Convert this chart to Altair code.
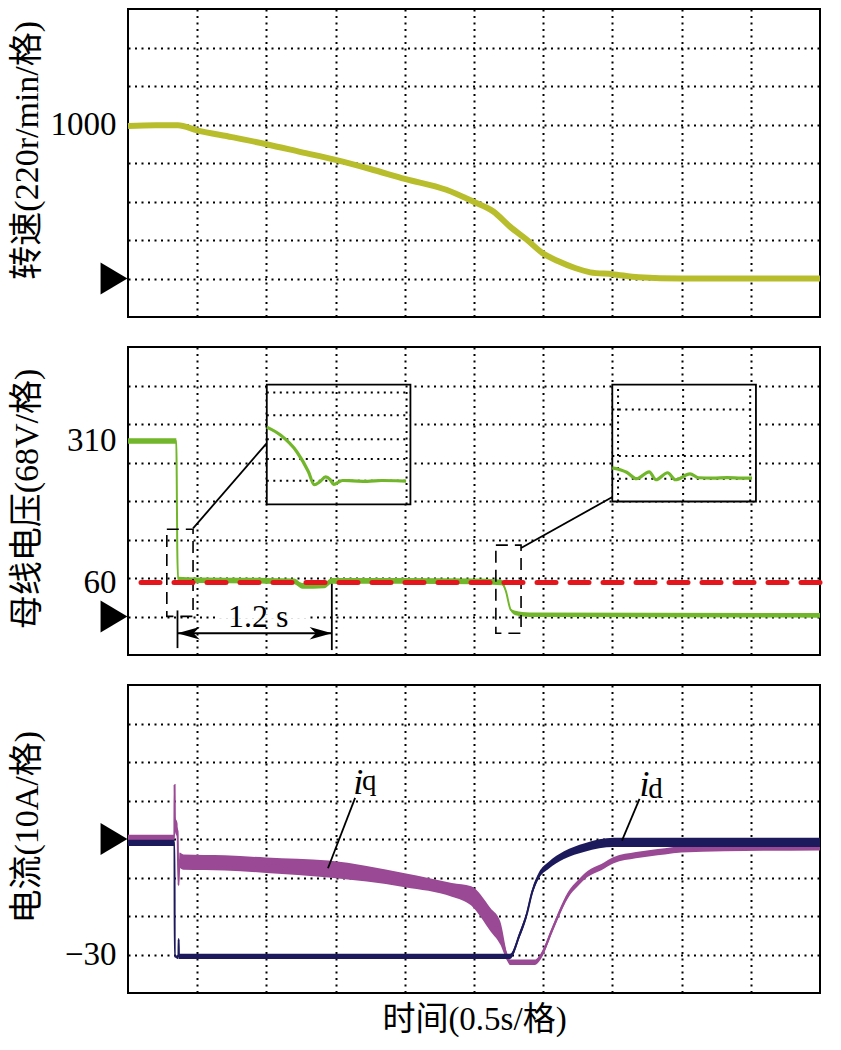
import altair as alt
import pandas as pd

# ---------------- data ----------------
t_grid = [0.5, 1.0, 1.5, 2.0, 2.5, 3.0, 3.5, 4.0, 4.5]          # s, 0.5 s/div

# speed (r/min)
speed_t = [0, 0.2, 0.36, 0.5, 0.75, 1.0, 1.25, 1.5, 1.75, 2.0, 2.3, 2.5, 2.64, 2.76, 2.88,
           3.0, 3.11, 3.23, 3.34, 3.5, 3.69, 4.0, 5.0]
speed_v = [990, 995, 995, 962, 918, 872, 821, 770, 711, 647, 576, 497, 435, 337, 253,
           162, 112, 68, 40, 28, 8, 0, 0]
speed_grid = [0, 250, 500, 750, 1000, 1250, 1500]

# bus voltage (V) and ripple half-width (V)
volt_t = [0, 0.349, 0.352, 0.356, 0.362, 0.5, 1.0, 1.2, 1.26, 1.42, 1.47, 2.0, 2.5, 2.70,
          2.73, 2.765, 2.80, 2.9, 5.0]
volt_v = [310, 310, 250, 120, 66, 64, 63, 62, 54, 55, 63, 63, 62, 60,
          45, 12, 6, 3, 2]
volt_r = [5, 5, 0, 0, 4, 5, 5, 5, 5, 5, 5, 5, 5, 5,
          2, 2, 4, 4, 4]
volt_ticks = [60, 310]
volt_grid = [0, 68, 136, 204, 272, 340, 408]
volt_ref = [60]

# currents (A)
iq_t = [0, 0.335, 0.3366, 0.339, 0.358, 0.3646, 0.372, 0.40, 0.7, 1.0, 1.45, 2.0, 2.34, 2.48,
        2.62, 2.69, 2.74, 2.76, 2.94, 2.99, 3.06, 3.11, 3.18, 3.25, 3.32, 3.42, 3.51, 3.67,
        3.88, 4.0, 4.31, 5.0]
iq_v = [0.3, 0.3, 14, 4, 2, -12, -5.5, -6.0, -6.2, -6.8, -7.8, -10.7, -13.2, -14.8,
        -21.0, -24.4, -30.7, -32, -32, -30, -24, -19.7, -14.5, -11.5, -9.1, -7.3, -5.5, -4.2,
        -3.2, -2.7, -2.4, -2.2]
iq_r = [0.8, 0.8, 0, 2, 2, 0, 2, 2, 2, 2, 2.2, 1.8, 1.8, 2.5,
        3.0, 3.0, 1.0, 0.7, 0.7, 0.8, 0.8, 0.8, 0.8, 0.8, 0.8, 0.8, 0.8, 0.8,
        0.8, 0.8, 0.8, 0.8]
id_t = [0, 0.336, 0.3375, 0.3646, 0.366, 0.368, 2.76, 2.83, 2.88, 2.92, 2.97, 3.04, 3.15,
        3.30, 3.51, 5.0]
id_v = [-1.0, -1.0, -30.5, -30.5, -26, -30.5, -30.5, -24.8, -19.7, -13.8, -9.4, -6.8, -4.2,
        -2.2, -0.9, -0.9]
id_r = [0.8, 0.8, 0, 0.7, 0, 0.7, 0.7, 0.8, 0.8, 0.8, 0.8, 0.9, 1.0, 1.1, 1.2, 1.2]
curr_grid = [-30, -20, -10, 0, 10, 20, 30]

# annotations of panel 2 (data units: s, V)
brk_t1 = [0.2805, 2.658]
brk_t2 = [0.470, 2.840]
brk_v1 = [154.1, 126.1]
brk_v2 = [0.2, -29.6]
lead_t1 = [0.470, 2.840]
lead_v1 = [155.7, 120.9]
lead_t2 = [1.003, 3.506]
lead_v2 = [306.1, 211.9]
span_t = [0.3576, 1.4727]
span_v = [-29.6]
end_t = [0.3576, 1.4727]
end_v1 = [10.7, 57.9]
end_v2 = [-55.8, -59.3]

# insets (fractions of the inset box)
in1_x = [0, 0.095, 0.21, 0.29, 0.33, 0.37, 0.41, 0.44, 0.466, 0.527, 0.6, 0.7, 0.8, 0.9, 0.97]
in1_y = [0.645, 0.579, 0.438, 0.273, 0.165, 0.19, 0.23, 0.21, 0.168, 0.2, 0.197, 0.193, 0.2, 0.198, 0.195]
in1_hgrid = [0.934, 0.744, 0.545, 0.38, 0.198]
in1_vgrid = [0.486, 0.973]
in2_x = [0, 0.06, 0.1, 0.169, 0.257, 0.304, 0.385, 0.439, 0.541, 0.6, 0.7, 0.8, 0.9, 0.973]
in2_y = [0.288, 0.27, 0.25, 0.195, 0.254, 0.186, 0.246, 0.186, 0.237, 0.203, 0.2, 0.205, 0.2, 0.2]
in2_hgrid = [0.788, 0.39, 0.195]
in2_vgrid = [0.04, 0.493, 0.96]

# ---------------- style ----------------
W, H = 692, 308
SER = "Liberation Serif"
CJK = "'Liberation Serif', 'Noto Sans CJK SC', serif"
C_SPEED = "#b8bd2c"
C_VOLT = "#72b72b"
C_RED = "#e3161d"
C_IQ = "#9a4a95"
C_ID = "#1c1a5c"
TRI = "M-0.84,-1 L0.84,0 L-0.84,1 Z"
ARROW_L = "M-1,0 L1,-0.55 L0.45,0 L1,0.55 Z"
ARROW_R = "M1,0 L-1,-0.55 L-0.45,0 L-1,0.55 Z"

XS = alt.Scale(domain=[0, 5], nice=False, zero=False)


def x_grid_axis(title=None):
    kw = dict(values=t_grid, grid=True, labels=False, ticks=False, tickSize=0, domain=False,
              orient="bottom", minExtent=0)
    if title:
        kw.update(title=title, titleFont=CJK, titleFontSize=33, titleFontWeight="normal",
                  titleColor="black", titlePadding=10)
    else:
        kw.update(title=None)
    return alt.Axis(**kw)


def y_axis(values, label_expr, title, title_y, grid_opacity=1):
    return alt.Axis(values=values, grid=True, gridOpacity=grid_opacity, labelExpr=label_expr,
                    labelOverlap=False, ticks=False, tickSize=0,
                    domain=False, labelFont=SER, labelFontSize=33, labelPadding=12,
                    labelColor="black", title=title, titleFont=CJK, titleFontSize=34,
                    titleFontWeight="normal", titleColor="black", titleX=-84, titleY=title_y,
                    titleAngle=270, titleBaseline="bottom", titleAlign="center", orient="left",
                    minExtent=0)


def marker(ysc):
    return alt.Chart(pd.DataFrame({"v": [0]})).mark_point(
        shape=TRI, size=1024, filled=True, color="black", opacity=1, strokeWidth=0
    ).encode(x=alt.value(-14), y=alt.Y("v:Q", scale=ysc, axis=None))


# ---------------- panel 1: speed ----------------
YS1 = alt.Scale(domain=[-250, 1750], nice=False, zero=False)
sp_df = pd.DataFrame({"t": speed_t, "v": speed_v})
p1_line = alt.Chart(sp_df).mark_line(color=C_SPEED, strokeWidth=6, interpolate="monotone").encode(
    x=alt.X("t:Q", scale=XS, axis=x_grid_axis()),
    y=alt.Y("v:Q", scale=YS1,
            axis=y_axis(speed_grid, "datum.value == 1000 ? '1000' : ''", "转速(220r/min/格)",
                        H * 0.457)),
)
p1 = alt.layer(p1_line, marker(YS1)).resolve_axis(x="independent", y="independent").properties(
    width=W, height=H)

# ---------------- panel 2: bus voltage ----------------
YS2 = alt.Scale(domain=[-68, 476], nice=False, zero=False)
v_df = pd.DataFrame({"t": volt_t, "v": volt_v, "r": volt_r})
label_test = " || ".join(f"datum.value == {v}" for v in volt_ticks)
v_band = alt.Chart(v_df).transform_calculate(
    lo="datum.v - datum.r", hi="datum.v + datum.r"
).mark_area(color=C_VOLT, interpolate="monotone").encode(
    x=alt.X("t:Q", scale=XS, axis=x_grid_axis()),
    y=alt.Y("lo:Q", scale=YS2,
            axis=y_axis(sorted(volt_grid + volt_ticks), f"({label_test}) ? datum.label : ''",
                        "母线电压(68V/格)", H * 0.492,
                        grid_opacity={"condition": {"test": label_test, "value": 0}, "value": 1})),
    y2="hi:Q",
)
v_line = alt.Chart(v_df).mark_line(color=C_VOLT, strokeWidth=2, interpolate="monotone").encode(
    x=alt.X("t:Q", scale=XS, axis=None), y=alt.Y("v:Q", scale=YS2, axis=None))
v_ref = alt.Chart(pd.DataFrame({"v": volt_ref})).mark_rule(
    color=C_RED, strokeWidth=5, strokeDash=[19, 14], strokeCap="round"
).encode(y=alt.Y("v:Q", scale=YS2, axis=None))
brk = alt.Chart(pd.DataFrame({"t1": brk_t1, "t2": brk_t2, "v1": brk_v1, "v2": brk_v2})).mark_rect(
    fillOpacity=0, stroke="black", strokeWidth=1.6, strokeDash=[12, 7]
).encode(x=alt.X("t1:Q", scale=XS, axis=None), x2="t2:Q",
         y=alt.Y("v1:Q", scale=YS2, axis=None), y2="v2:Q")
lead = alt.Chart(pd.DataFrame({"t1": lead_t1, "t2": lead_t2, "v1": lead_v1, "v2": lead_v2})).mark_rule(
    color="black", strokeWidth=1.8
).encode(x=alt.X("t1:Q", scale=XS, axis=None), x2="t2:Q",
         y=alt.Y("v1:Q", scale=YS2, axis=None), y2="v2:Q")
knock = alt.Chart(pd.DataFrame({"t1": [0.645], "t2": [1.29], "v1": [-4], "v2": [4]})).mark_rect(
    color="white").encode(x=alt.X("t1:Q", scale=XS, axis=None), x2="t2:Q",
                          y=alt.Y("v1:Q", scale=YS2, axis=None), y2="v2:Q")
span = alt.Chart(pd.DataFrame({"t1": [span_t[0]], "t2": [span_t[1]], "v": span_v})).mark_rule(
    color="black", strokeWidth=1.8
).encode(x=alt.X("t1:Q", scale=XS, axis=None), x2="t2:Q", y=alt.Y("v:Q", scale=YS2, axis=None))
ends = alt.Chart(pd.DataFrame({"t": end_t, "v1": end_v1, "v2": end_v2})).mark_rule(
    color="black", strokeWidth=1.8
).encode(x=alt.X("t:Q", scale=XS, axis=None), y=alt.Y("v1:Q", scale=YS2, axis=None), y2="v2:Q")
head_l = alt.Chart(pd.DataFrame({"t": [span_t[0]], "v": span_v})).mark_point(
    shape=ARROW_L, size=500, filled=True, color="black", opacity=1, strokeWidth=0, xOffset=11
).encode(x=alt.X("t:Q", scale=XS, axis=None), y=alt.Y("v:Q", scale=YS2, axis=None))
head_r = alt.Chart(pd.DataFrame({"t": [span_t[1]], "v": span_v})).mark_point(
    shape=ARROW_R, size=500, filled=True, color="black", opacity=1, strokeWidth=0, xOffset=-11
).encode(x=alt.X("t:Q", scale=XS, axis=None), y=alt.Y("v:Q", scale=YS2, axis=None))
span_txt = alt.Chart(pd.DataFrame({"t": [0.94], "v": [-1.6], "s": ["1.2 s"]})).mark_text(
    font=SER, fontSize=32, color="black", baseline="middle", align="center"
).encode(x=alt.X("t:Q", scale=XS, axis=None), y=alt.Y("v:Q", scale=YS2, axis=None), text="s:N")

main2 = alt.layer(v_band, v_line, knock, brk, lead, ends, span, head_l, head_r, span_txt,
                  v_ref, marker(YS2)).resolve_axis(x="independent", y="independent")


def inset(x0, x1, ytop, ybot, xs_, ys_, hg, vg):
    sx = alt.Scale(domain=[0, 1], range=[(x0 - 126) / 713 * W, (x1 - 126) / 713 * W],
                   nice=False, zero=False)
    sy = alt.Scale(domain=[0, 1], range=[(ybot - 339) / 311 * H, (ytop - 339) / 311 * H],
                   nice=False, zero=False)
    frame = alt.Chart(pd.DataFrame({"a": [0], "b": [1]})).mark_rect(
        fill="white", stroke="black", strokeWidth=1.8
    ).encode(x=alt.X("a:Q", scale=sx, axis=None), x2="b:Q",
             y=alt.Y("a:Q", scale=sy, axis=None), y2="b:Q")
    hgl = alt.Chart(pd.DataFrame({"g": hg, "a": 0, "b": 1})).mark_rule(
        color="black", strokeWidth=2, strokeDash=[2, 4.5]
    ).encode(x=alt.X("a:Q", scale=sx, axis=None), x2="b:Q", y=alt.Y("g:Q", scale=sy, axis=None))
    vgl = alt.Chart(pd.DataFrame({"g": vg, "a": 0, "b": 1})).mark_rule(
        color="black", strokeWidth=2, strokeDash=[2, 4.5]
    ).encode(x=alt.X("g:Q", scale=sx, axis=None), y=alt.Y("a:Q", scale=sy, axis=None), y2="b:Q")
    tr = alt.Chart(pd.DataFrame({"x": xs_, "y": ys_})).mark_line(
        color=C_VOLT, strokeWidth=3.2, interpolate="monotone"
    ).encode(x=alt.X("x:Q", scale=sx, axis=None), y=alt.Y("y:Q", scale=sy, axis=None))
    return alt.layer(frame, hgl, vgl, tr)


ins1 = inset(269, 417, 377, 498, in1_x, in1_y, in1_hgrid, in1_vgrid)
ins2 = inset(625, 773, 377, 495, in2_x, in2_y, in2_hgrid, in2_vgrid)
p2 = alt.layer(main2, ins1, ins2).resolve_scale(x="independent", y="independent").properties(
    width=W, height=H)

# ---------------- panel 3: currents ----------------
YS3 = alt.Scale(domain=[-40, 40], nice=False, zero=False)
iq_df = pd.DataFrame({"t": iq_t, "v": iq_v, "r": iq_r})
id_df = pd.DataFrame({"t": id_t, "v": id_v, "r": id_r})
iq_band = alt.Chart(iq_df).transform_calculate(
    lo="datum.v - datum.r", hi="datum.v + datum.r"
).mark_area(color=C_IQ, interpolate="monotone").encode(
    x=alt.X("t:Q", scale=XS, axis=x_grid_axis("时间(0.5s/格)")),
    y=alt.Y("lo:Q", scale=YS3,
            axis=y_axis(curr_grid, "datum.value == -30 ? '\u221230' : ''", "电流(10A/格)",
                        H * 0.46)),
    y2="hi:Q",
)
iq_line = alt.Chart(iq_df).mark_line(color=C_IQ, strokeWidth=2, interpolate="monotone").encode(
    x=alt.X("t:Q", scale=XS, axis=None), y=alt.Y("v:Q", scale=YS3, axis=None))
id_band = alt.Chart(id_df).transform_calculate(
    lo="datum.v - datum.r", hi="datum.v + datum.r"
).mark_area(color=C_ID, interpolate="monotone").encode(
    x=alt.X("t:Q", scale=XS, axis=None), y=alt.Y("lo:Q", scale=YS3, axis=None), y2="hi:Q")
id_line = alt.Chart(id_df).mark_line(color=C_ID, strokeWidth=2, interpolate="monotone").encode(
    x=alt.X("t:Q", scale=XS, axis=None), y=alt.Y("v:Q", scale=YS3, axis=None))
c_lead = alt.Chart(pd.DataFrame({"t1": [1.641, 3.696], "t2": [1.445, 3.569],
                                 "v1": [10.7, 10.4], "v2": [-7.6, -0.4]})).mark_rule(
    color="black", strokeWidth=1.8
).encode(x=alt.X("t1:Q", scale=XS, axis=None), x2="t2:Q",
         y=alt.Y("v1:Q", scale=YS3, axis=None), y2="v2:Q")
lab_i = alt.Chart(pd.DataFrame({"t": [1.627, 3.696], "v": [11.7, 11.2], "s": ["i", "i"]})).mark_text(
    font=SER, fontSize=36, fontStyle="italic", color="black", align="left", baseline="alphabetic"
).encode(x=alt.X("t:Q", scale=XS, axis=None), y=alt.Y("v:Q", scale=YS3, axis=None), text="s:N")
lab_s = alt.Chart(pd.DataFrame({"t": [1.690, 3.759], "v": [12.7, 10.7], "s": ["q", "d"]})).mark_text(
    font=SER, fontSize=29, color="black", align="left", baseline="alphabetic"
).encode(x=alt.X("t:Q", scale=XS, axis=None), y=alt.Y("v:Q", scale=YS3, axis=None), text="s:N")

p3 = alt.layer(iq_band, iq_line, id_band, id_line, c_lead, lab_i, lab_s, marker(YS3)).resolve_axis(
    x="independent", y="independent").properties(width=W, height=H)

chart = alt.vconcat(p1, p2, p3, spacing=28).configure_view(
    stroke="black", strokeWidth=2
).configure_axis(
    gridColor="black", gridDash=[2, 4.5], gridWidth=2, minExtent=0
).properties(background="white", padding=0)

chart.save("out.html", embed_options={"renderer": "svg", "actions": False})
